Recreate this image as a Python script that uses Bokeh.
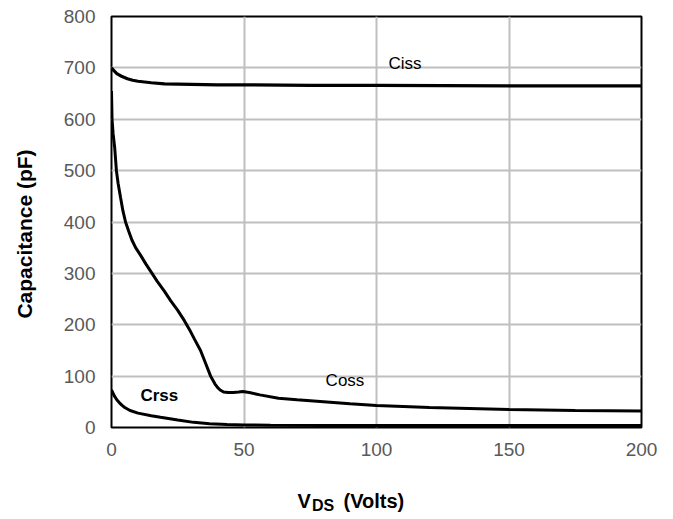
import math
from bokeh.plotting import figure
from bokeh.models import FixedTicker, Range1d
from bokeh.layouts import column, row
from bokeh.core.properties import value
from bokeh.embed import file_html
from bokeh.resources import INLINE

# ---- data ----
ciss_v = [0, 1, 2, 4, 6, 8, 10, 15, 20, 30, 40, 50, 75, 100, 150, 200]
ciss_c = [700, 694, 689, 683, 679, 676, 674, 671, 669, 668, 667, 667, 666, 666, 665, 665]

coss_v = [0, 0.2, 0.6, 1.2, 1.85, 2.5, 3.4, 4.3, 5.3, 6.5, 7.7, 9.1, 11, 13, 15.3, 17.2, 20,
          22.3, 25, 27.5, 29.5, 31.3, 33.6, 35.5, 37.4, 39, 40, 41, 42.3, 44, 46, 48, 49.5, 52, 56,
          63, 70, 80, 90, 100, 120, 150, 175, 200]
coss_c = [655, 600, 572, 545, 500, 475, 448, 422, 400, 382, 365, 350, 335, 318, 300, 285, 265,
          247, 228, 208, 190, 172, 150, 125, 100, 85, 78, 73, 69, 68, 68, 69, 70, 68, 63.5,
          57, 54, 50, 46, 43, 39, 35, 33, 32]

crss_v = [0, 1, 2, 3, 4, 5, 7, 10, 15, 18.5, 25, 31, 37, 43.6, 50, 60, 80, 100, 150, 200]
crss_c = [73, 62, 54, 48, 43, 39, 33, 28, 23, 20, 14.5, 10, 7.5, 6, 5, 4.5, 4, 4, 4, 4]

x_ticks = [0, 50, 100, 150, 200]
y_ticks = [0, 100, 200, 300, 400, 500, 600, 700, 800]

curve_labels = ["Ciss", "Coss", "Crss"]
label_pos_v = [104.5, 80.8, 10.9]
label_pos_c = [708, 91.5, 62]
label_styles = ["normal", "normal", "bold"]

y_title = "Capacitance (pF)"
x_title_parts = ["V", "DS", "(Volts)"]

FONT = "Liberation Sans"
LEFT_STRIP = 45

# ---- main chart ----
p = figure(width=673 - LEFT_STRIP, height=480, output_backend="svg", toolbar_location=None,
           x_range=Range1d(0, 200), y_range=Range1d(0, 800),
           min_border_left=111 - LEFT_STRIP, min_border_right=32, min_border_top=16,
           min_border_bottom=53)

p.outline_line_color = "black"
p.outline_line_width = 2

for ax in (p.xaxis[0], p.yaxis[0]):
    ax.axis_line_color = None
    ax.major_tick_line_color = None
    ax.minor_tick_line_color = None
    ax.major_tick_in = 0
    ax.major_tick_out = 0
    ax.minor_tick_in = 0
    ax.minor_tick_out = 0
    ax.major_label_text_font = FONT
    ax.major_label_text_font_size = "19px"
    ax.major_label_text_color = "#595959"

p.xaxis.ticker = FixedTicker(ticks=x_ticks)
p.yaxis.ticker = FixedTicker(ticks=y_ticks)
p.xaxis.major_label_standoff = 15
p.yaxis.major_label_standoff = 16

p.xgrid.ticker = FixedTicker(ticks=x_ticks)
p.ygrid.ticker = FixedTicker(ticks=y_ticks)
p.grid.grid_line_color = "#bfbfbf"
p.grid.grid_line_width = 2

p.line(ciss_v, ciss_c, line_color="black", line_width=3.2)
p.line(coss_v, coss_c, line_color="black", line_width=3)
p.line(crss_v, crss_c, line_color="black", line_width=3)

for t, xv, yv, st in zip(curve_labels, label_pos_v, label_pos_c, label_styles):
    p.text(x=[xv], y=[yv], text=[t], text_font=value(FONT), text_font_size="17px",
           text_font_style=st, text_color="black", text_align="left", text_baseline="middle")

# ---- y-axis title strip (pixel-like coordinates) ----
yl = figure(width=LEFT_STRIP, height=480, output_backend="svg", toolbar_location=None,
            x_range=Range1d(0, LEFT_STRIP), y_range=Range1d(0, 480),
            x_axis_location=None, y_axis_location=None,
            min_border_left=0, min_border_right=0, min_border_top=0, min_border_bottom=0)
yl.grid.visible = False
yl.outline_line_color = None
yl.text(x=[24], y=[226], text=[y_title], angle=math.pi / 2, text_font=value(FONT),
        text_font_size="21px", text_font_style="bold", text_color="black",
        text_align="center", text_baseline="middle")

# ---- x-axis title strip (pixel-like coordinates) ----
q = figure(width=673, height=39, output_backend="svg", toolbar_location=None,
           x_range=Range1d(0, 673), y_range=Range1d(0, 39),
           x_axis_location=None, y_axis_location=None,
           min_border_left=0, min_border_right=0, min_border_top=0, min_border_bottom=0)
q.grid.visible = False
q.outline_line_color = None
q.text(x=[297], y=[19], text=[x_title_parts[0]], text_font=value(FONT), text_font_size="20px",
       text_font_style="bold", text_color="black", text_align="left", text_baseline="alphabetic")
q.text(x=[311.5], y=[14], text=[x_title_parts[1]], text_font=value(FONT), text_font_size="16px",
       text_font_style="bold", text_color="black", text_align="left", text_baseline="alphabetic")
q.text(x=[343], y=[19], text=[x_title_parts[2]], text_font=value(FONT), text_font_size="20px",
       text_font_style="bold", text_color="black", text_align="left", text_baseline="alphabetic")

layout = column(row(yl, p, spacing=0), q, spacing=0)
open("out.html", "w").write(file_html(layout, INLINE))
